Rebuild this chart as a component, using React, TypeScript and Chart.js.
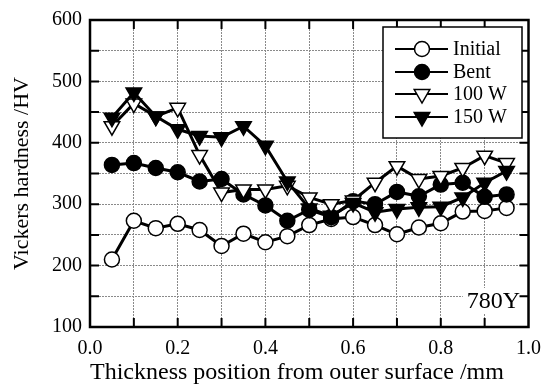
import React, { useEffect, useRef } from "react";
import { Chart, registerables } from "chart.js";
Chart.register(...registerables);

const positions = [0.05, 0.1, 0.15, 0.2, 0.25, 0.3, 0.35, 0.4, 0.45, 0.5, 0.55, 0.6, 0.65, 0.7, 0.75, 0.8, 0.85, 0.9, 0.95];
const initialHV = [210, 273, 261, 268, 258, 232, 252, 238, 248, 266, 276, 279, 266, 251, 262, 269, 288, 289, 294];
const bentHV = [364, 367, 359, 352, 337, 341, 316, 298, 273, 291, 279, 305, 300, 320, 313, 332, 335, 312, 316];
const w100HV = [427, 464, 443, 457, 380, 319, 324, 324, 330, 311, 300, 306, 335, 362, 341, 346, 359, 379, 367];
const w150HV = [441, 482, 443, 422, 411, 409, 427, 395, 337, 293, 281, 302, 287, 292, 295, 296, 311, 335, 354];
const seriesNames = ["Initial", "Bent", "100 W", "150 W"];
const xTitle = "Thickness position from outer surface /mm";
const yTitle = "Vickers hardness /HV";
const specimen = "780Y";

const FONT = "'Liberation Serif', 'Times New Roman', serif";

type Style = { kind: "circle" | "tri"; filled: boolean };
const styles: Style[] = [
  { kind: "circle", filled: false },
  { kind: "circle", filled: true },
  { kind: "tri", filled: false },
  { kind: "tri", filled: true },
];

function drawMarker(ctx: CanvasRenderingContext2D, x: number, y: number, s: Style) {
  ctx.save();
  ctx.beginPath();
  if (s.kind === "circle") {
    ctx.arc(x, y, 7.5, 0, Math.PI * 2);
  } else {
    const r = 9;
    ctx.moveTo(x - r * 0.866, y - r * 0.5);
    ctx.lineTo(x + r * 0.866, y - r * 0.5);
    ctx.lineTo(x, y + r);
    ctx.closePath();
  }
  ctx.fillStyle = s.filled ? "#000" : "#fff";
  ctx.fill();
  ctx.lineWidth = 1.5;
  ctx.strokeStyle = "#000";
  ctx.stroke();
  ctx.restore();
}

const framePlugin = {
  id: "framePlugin",
  beforeDatasetsDraw(chart: any) {
    const ctx = chart.ctx as CanvasRenderingContext2D;
    const { right, bottom } = chart.chartArea;
    ctx.save();
    ctx.font = `24px ${FONT}`;
    const w = ctx.measureText(specimen).width;
    const cx = right - 35;
    const cy = bottom - 26;
    ctx.fillStyle = "#fff";
    ctx.fillRect(cx - w / 2 - 4, cy - 13, w + 8, 26);
    ctx.fillStyle = "#000";
    ctx.textAlign = "center";
    ctx.textBaseline = "middle";
    ctx.fillText(specimen, cx, cy + 1);
    ctx.restore();
  },
  afterDatasetsDraw(chart: any) {
    const ctx = chart.ctx as CanvasRenderingContext2D;
    const { left, right, top, bottom } = chart.chartArea;
    const xs = chart.scales.x;
    const ys = chart.scales.y;
    ctx.save();
    ctx.strokeStyle = "#000";
    ctx.lineWidth = 2;
    const tl = 9;
    ctx.beginPath();
    for (let i = 1; i < 10; i++) {
      const px = xs.getPixelForValue(i / 10);
      ctx.moveTo(px, bottom);
      ctx.lineTo(px, bottom - tl);
      ctx.moveTo(px, top);
      ctx.lineTo(px, top + tl);
    }
    for (let v = 150; v < 600; v += 50) {
      const py = ys.getPixelForValue(v);
      ctx.moveTo(left, py);
      ctx.lineTo(left + tl, py);
      ctx.moveTo(right, py);
      ctx.lineTo(right - tl, py);
    }
    ctx.stroke();
    ctx.lineWidth = 2.5;
    ctx.strokeRect(left, top, right - left, bottom - top);

    // legend
    const bx = 383, by = 27, bw = 139, bh = 111;
    ctx.fillStyle = "#fff";
    ctx.fillRect(bx, by, bw, bh);
    ctx.lineWidth = 1.5;
    ctx.strokeRect(bx, by, bw, bh);
    const rows = [49, 72, 94, 117];
    ctx.font = `20px ${FONT}`;
    ctx.textBaseline = "middle";
    ctx.textAlign = "left";
    rows.forEach((ry, i) => {
      ctx.beginPath();
      ctx.lineWidth = 2;
      ctx.moveTo(395, ry);
      ctx.lineTo(448, ry);
      ctx.stroke();
      drawMarker(ctx, 422, ry, styles[i]);
      ctx.fillStyle = "#000";
      ctx.fillText(seriesNames[i], 453, ry + 1);
    });
    ctx.restore();
  },
};

function mkDataset(label: string, values: number[], s: Style, order: number) {
  return {
    label,
    data: positions.map((x, i) => ({ x, y: values[i] })),
    borderColor: "#000",
    borderWidth: 3,
    backgroundColor: s.filled ? "#000" : "#fff",
    pointBackgroundColor: s.filled ? "#000" : "#fff",
    pointBorderColor: "#000",
    pointBorderWidth: 1.5,
    pointStyle: s.kind === "circle" ? "circle" : "triangle",
    pointRotation: s.kind === "circle" ? 0 : 180,
    pointRadius: s.kind === "circle" ? 7.5 : 9,
    tension: 0,
    order,
  };
}

export default function App() {
  const ref = useRef<HTMLCanvasElement>(null);
  useEffect(() => {
    if (!ref.current) return;
    const chart = new Chart(ref.current, {
      type: "line",
      data: {
        datasets: [
          mkDataset(seriesNames[0], initialHV, styles[0], 4),
          mkDataset(seriesNames[1], bentHV, styles[1], 3),
          mkDataset(seriesNames[2], w100HV, styles[2], 2),
          mkDataset(seriesNames[3], w150HV, styles[3], 1),
        ] as any,
      },
      options: {
        responsive: false,
        animation: false,
        devicePixelRatio: 1,
        layout: { padding: { top: 18, right: 21, left: 0, bottom: 0 } },
        plugins: { legend: { display: false }, tooltip: { enabled: false } },
        scales: {
          x: {
            type: "linear",
            min: 0,
            max: 1,
            afterFit: (s: any) => { s.height = 60; },
            ticks: {
              stepSize: 0.1,
              autoSkip: false,
              maxRotation: 0,
              padding: 10,
              color: "#000",
              font: { family: FONT, size: 20 },
              callback: (v: any) => {
                const n = Math.round(Number(v) * 10);
                return n % 2 === 0 ? (n / 10).toFixed(1) : "";
              },
            },
            grid: { color: "#8a8a8a", lineWidth: 1, drawTicks: false },
            border: { display: false, dash: [2, 1] },
            title: {
              display: true,
              text: xTitle,
              align: "start",
              color: "#000",
              font: { family: FONT, size: 24 },
              padding: { top: 0, bottom: 0 },
            },
          },
          y: {
            type: "linear",
            min: 100,
            max: 600,
            afterFit: (s: any) => { s.width = 90; },
            ticks: {
              stepSize: 50,
              autoSkip: false,
              padding: 8,
              color: "#000",
              font: { family: FONT, size: 20 },
              callback: (v: any) => (Number(v) % 100 === 0 ? String(v) : ""),
            },
            grid: { color: "#8a8a8a", lineWidth: 1, drawTicks: false },
            border: { display: false, dash: [2, 1] },
            title: {
              display: true,
              text: yTitle,
              color: "#000",
              font: { family: FONT, size: 22 },
              padding: { top: 9, bottom: 0 },
            },
          },
        },
      } as any,
      plugins: [framePlugin],
    });
    return () => chart.destroy();
  }, []);
  return (
    <div style={{ position: "fixed", left: 0, top: 0, width: 551, height: 387, background: "#fff" }}>
      <canvas ref={ref} width={551} height={387} style={{ display: "block" }} />
    </div>
  );
}
